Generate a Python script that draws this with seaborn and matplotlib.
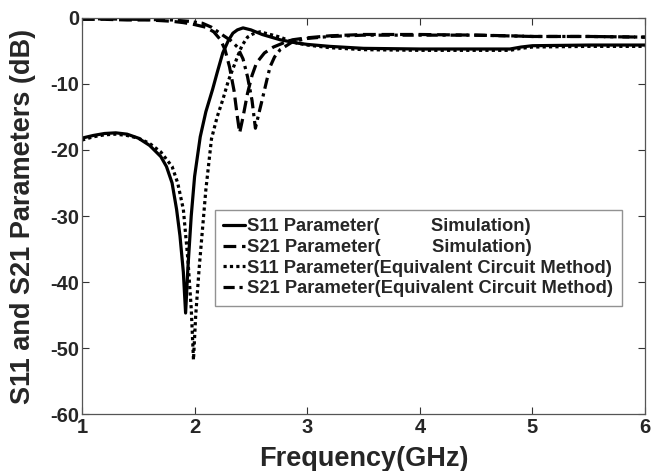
import matplotlib
matplotlib.use("Agg")
import matplotlib.pyplot as plt
import seaborn as sns
import pandas as pd

# ---- data ----
s11_sim_f = [1.0, 1.1, 1.2, 1.3, 1.4, 1.5, 1.6, 1.7, 1.75, 1.8, 1.84, 1.87, 1.9, 1.92, 1.94, 1.97,
             2.0, 2.05, 2.1, 2.16, 2.2, 2.25, 2.3, 2.34, 2.38, 2.43, 2.5, 2.6, 2.7, 2.76, 2.85,
             2.91, 3.0, 3.2, 3.5, 4.0, 4.5, 4.8, 4.9, 5.0, 5.5, 6.0]
s11_sim_db = [-18.2, -17.8, -17.5, -17.4, -17.6, -18.2, -19.3, -21.0, -22.5, -25.0, -29.0, -33.0,
              -38.5, -44.7, -38.0, -30.0, -24.0, -18.0, -14.2, -10.8, -8.3, -5.3, -3.4, -2.3, -1.8,
              -1.5, -1.8, -2.5, -3.0, -3.3, -3.6, -3.8, -4.0, -4.3, -4.6, -4.7, -4.7, -4.7, -4.4,
              -4.2, -4.1, -4.1]

s21_sim_f = [1.0, 1.2, 1.4, 1.6, 1.8, 1.9, 2.0, 2.1, 2.17, 2.23, 2.27, 2.31, 2.35, 2.38, 2.40,
             2.43, 2.47, 2.51, 2.55, 2.62, 2.70, 2.8, 2.87, 3.0, 3.2, 3.5, 4.0, 4.5, 4.8, 5.0,
             5.5, 6.0]
s21_sim_db = [-0.2, -0.2, -0.3, -0.3, -0.5, -0.7, -1.0, -1.4, -2.1, -3.3, -4.8, -7.4, -11.0,
              -15.0, -17.4, -15.0, -11.4, -8.7, -6.8, -5.3, -4.4, -3.7, -3.3, -3.0, -2.7, -2.5,
              -2.5, -2.6, -2.7, -2.8, -2.8, -2.9]

s11_eq_f = [1.0, 1.1, 1.2, 1.3, 1.4, 1.5, 1.6, 1.7, 1.8, 1.85, 1.9, 1.94, 1.97, 1.99, 2.01, 2.04,
            2.07, 2.1, 2.15, 2.2, 2.25, 2.3, 2.38, 2.42, 2.47, 2.52, 2.58, 2.65, 2.76, 2.85, 2.91,
            3.0, 3.2, 3.5, 4.0, 4.5, 4.8, 4.9, 5.0, 5.5, 6.0]
s11_eq_db = [-18.5, -18.0, -17.7, -17.6, -17.8, -18.2, -19.0, -20.3, -22.5, -25.0, -29.0, -36.5,
             -44.0, -51.8, -45.0, -38.0, -32.0, -26.0, -18.3, -15.0, -12.4, -9.5, -5.9, -4.2,
             -2.9, -2.4, -2.1, -2.4, -2.9, -3.5, -3.8, -4.1, -4.5, -4.8, -4.9, -4.9, -4.9, -4.6,
             -4.4, -4.3, -4.3]

s21_eq_f = [1.0, 1.5, 1.8, 1.95, 2.07, 2.15, 2.25, 2.32, 2.38, 2.43, 2.47, 2.51, 2.54, 2.57,
            2.60, 2.64, 2.67, 2.71, 2.76, 2.87, 3.0, 3.2, 3.5, 4.0, 4.5, 5.0, 5.5, 6.0]
s21_eq_db = [-0.1, -0.2, -0.3, -0.5, -0.8, -1.4, -2.6, -3.4, -4.4, -6.2, -8.9, -12.5, -16.7,
             -14.5, -12.4, -9.5, -7.4, -5.9, -4.8, -3.6, -3.1, -2.8, -2.6, -2.6, -2.6, -2.8,
             -2.8, -2.9]

gap = " " * 10
labels = [f"S11 Parameter({gap}Simulation)",
          f"S21 Parameter({gap}Simulation)",
          "S11 Parameter(Equivalent Circuit Method)",
          "S21 Parameter(Equivalent Circuit Method)"]
x_ticks = [1, 2, 3, 4, 5, 6]
y_ticks = [0, -10, -20, -30, -40, -50, -60]

sns.set_style("white")
plt.rcParams["font.family"] = ["Liberation Sans", "DejaVu Sans"]
plt.rcParams["font.weight"] = "bold"

fig = plt.figure(figsize=(6.65, 4.71), dpi=100)
ax = fig.add_axes([0.1233, 0.121, 0.8467, 0.8408])

series = [(s11_sim_f, s11_sim_db, "-", None),
          (s21_sim_f, s21_sim_db, "--", (4.0, 1.8)),
          (s11_eq_f, s11_eq_db, ":", (1.0, 1.0)),
          (s21_eq_f, s21_eq_db, "-.", (3.5, 1.5, 1.0, 1.5))]

lw = 2.3
for (f, d, ls, dash), lab in zip(series, labels):
    df = pd.DataFrame({"f": f, "db": d})
    sns.lineplot(data=df, x="f", y="db", ax=ax, color="black", linewidth=lw,
                 estimator=None, label=lab, legend=False)
    line = ax.lines[-1]
    if dash is not None:
        line.set_dashes(dash)

ax.set_xlim(1, 6)
ax.set_ylim(-60, 0)
ax.set_xticks(x_ticks)
ax.set_yticks(y_ticks)
ax.set_xticklabels([str(v) for v in x_ticks], fontsize=14.5, fontweight="bold")
ax.set_yticklabels([str(v) for v in y_ticks], fontsize=14.5, fontweight="bold")
ax.tick_params(direction="in", length=5, width=0.8, top=True, right=True,
               bottom=True, left=True, color="#333333")
ax.tick_params(axis="x", pad=3)
ax.tick_params(axis="y", pad=2)
for sp in ax.spines.values():
    sp.set_visible(True)
    sp.set_color("#555555")
    sp.set_linewidth(0.9)

ax.set_xlabel("Frequency(GHz)", fontsize=19.5, fontweight="bold", labelpad=6)
ax.set_ylabel("S11 and S21 Parameters (dB)", fontsize=19.5, fontweight="bold", labelpad=10)

leg = ax.legend(ax.lines, labels, loc="upper left", bbox_to_anchor=(0.236, 0.515),
                borderaxespad=0, frameon=True, fancybox=False, edgecolor="#777777",
                prop={"size": 13.2, "weight": "bold"}, handlelength=1.2,
                handletextpad=0.12, labelspacing=0.2, borderpad=0.45)
leg.get_frame().set_linewidth(1.0)

fig.savefig("out.png", dpi=100)
